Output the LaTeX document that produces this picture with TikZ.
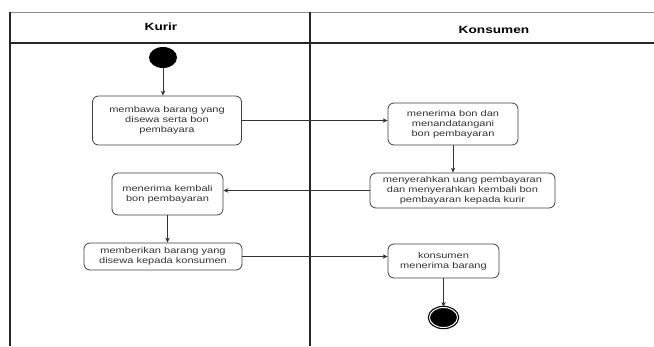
\documentclass[tikz,border=0pt]{standalone}
\usepackage{fontspec}
\setmainfont{Liberation Sans}[FakeStretch=1.3]
\usetikzlibrary{shapes.geometric,arrows.meta}

\begin{document}
\begin{tikzpicture}[x=1pt, y=-1pt,
  every node/.style={inner sep=2pt},
  action/.style={draw=black!75, rounded corners=6pt, line width=0.8pt, align=center,
    text=black!80, font=\fontsize{8.5}{10}\selectfont},
  startnode/.style={ellipse, fill=black, minimum width=28pt, minimum height=21pt},
  endnode/.style={ellipse, draw=black, fill=black, double=white, double distance=1pt,
    line width=1.2pt, minimum width=28pt, minimum height=20pt},
  flow/.style={draw=black!80, line width=0.8pt, -{Stealth[length=5pt, width=4.5pt]}},
  lane/.style={line width=1.4pt, black!85},
  head/.style={font=\bfseries\fontsize{10.5}{12}\selectfont}
]
\useasboundingbox (0,0) rectangle (654,346);

% swimlanes
\draw[black!45, line width=1pt] (10,12) -- (654,12);
\draw[lane] (10,43) -- (654,43);
\draw[lane] (10,12) -- (10,346);
\draw[lane] (310,12) -- (310,346);
\node[head] (kurir) at (161,27) {Kurir};
\node[head] (konsumen) at (494,30) {Konsumen};

% activities
\node[startnode] (start) at (163,57.5) {};
\node[action, minimum width=149pt, minimum height=49pt] (bawa) at (167,120.5)
  {membawa barang yang\\disewa serta bon\\pembayara};
\node[action, minimum width=130pt, minimum height=42pt] (terimabon) at (453,124)
  {menerima bon dan\\menandatangani\\bon pembayaran};
\node[action, minimum width=185pt, minimum height=35pt] (serah) at (462.5,190.5)
  {menyerahkan uang pembayaran\\dan menyerahkan kembali bon\\pembayaran kepada kurir};
\node[action, minimum width=111pt, minimum height=42pt] (kembali) at (167.5,194)
  {menerima kembali\\bon pembayaran};
\node[action, minimum width=158pt, minimum height=27pt] (beri) at (163,256.5)
  {memberikan barang yang\\disewa kepada konsumen};
\node[action, minimum width=111pt, minimum height=34pt] (terimabrg) at (443.5,261)
  {konsumen\\menerima barang};
\node[endnode] (stop) at (443.5,317.5) {};

% flow
\draw[flow] (start) -- (start |- bawa.north);
\draw[flow] (bawa.east) -- (bawa.east -| terimabon.west);
\draw[flow] (terimabon) -- (terimabon |- serah.north);
\draw[flow] (serah.west) -- (serah.west -| kembali.east);
\draw[flow] (kembali) -- (kembali |- beri.north);
\draw[flow] (beri.east) -- (beri.east -| terimabrg.west);
\draw[flow] (terimabrg) -- (stop);
\end{tikzpicture}
\end{document}
